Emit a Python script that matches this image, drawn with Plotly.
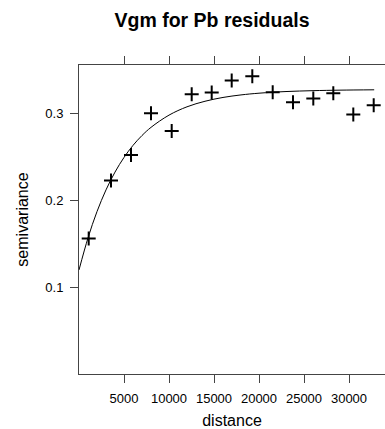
import plotly.graph_objects as go

# sample variogram
dist = [1078, 3556, 5778, 8000, 10300, 12522, 14744, 16967, 19256,
        21522, 23778, 26033, 28256, 30478, 32744]
gamma = [0.1563, 0.223, 0.2525, 0.3008, 0.2801, 0.3226, 0.3247, 0.3383,
         0.3433, 0.325, 0.3134, 0.3176, 0.3238, 0.2992, 0.310]

# fitted model curve
model_dist = [0, 1000, 2000, 3000, 4000, 5000, 6000, 7000, 8000, 10000,
              12000, 14000, 16000, 18000, 20000, 23000, 26000, 29000, 32800]
model_gamma = [0.120, 0.1569, 0.1873, 0.2123, 0.2328, 0.2497, 0.2636, 0.275,
               0.2844, 0.2985, 0.3081, 0.3145, 0.3189, 0.3218, 0.3238,
               0.3257, 0.3267, 0.3273, 0.3277]

x_ticks = [5000, 10000, 15000, 20000, 25000, 30000]
x_tick_labels = ["5000", "10000", "15000", "20000", "25000", "30000"]
y_ticks = [0.1, 0.2, 0.3]
y_tick_labels = ["0.1", "0.2", "0.3"]

FONT = "Liberation Sans, Arial, Helvetica, sans-serif"
AX = "#444444"

fig = go.Figure()
fig.add_trace(go.Scatter(x=model_dist, y=model_gamma, mode="lines",
                         line=dict(color="black", width=1, shape="spline"),
                         hoverinfo="skip", showlegend=False))
fig.add_trace(go.Scatter(x=dist, y=gamma, mode="markers",
                         marker=dict(symbol="cross-thin", size=10,
                                     line=dict(color="black", width=2)),
                         cliponaxis=False, showlegend=False))
# dummy trace to enable top axis
fig.add_trace(go.Scatter(x=[None], y=[None], xaxis="x2", yaxis="y",
                         showlegend=False, hoverinfo="skip"))

xr = [0, 34000]
fig.update_layout(
    width=385, height=429,
    margin=dict(l=79, r=0, t=65, b=55, autoexpand=False),
    paper_bgcolor="white", plot_bgcolor="white",
    font=dict(family=FONT, color="black"),
    title=dict(text="<b>Vgm for Pb residuals</b>", x=212/385, xanchor="center",
               y=1 - 20/429, yanchor="middle", font=dict(size=19.5, family=FONT)),
    xaxis=dict(range=xr, tickvals=x_ticks, ticktext=x_tick_labels,
               ticks="outside", ticklen=8, tickcolor=AX, tickwidth=1,
               showline=True, linecolor=AX, linewidth=1, showgrid=False,
               zeroline=False, tickfont=dict(size=13), automargin=False,
               ticklabelstandoff=4,
               title=dict(text="distance", font=dict(size=16), standoff=16)),
    xaxis2=dict(range=xr, overlaying="x", side="top", tickvals=x_ticks,
                showticklabels=False, ticks="outside", ticklen=8, tickcolor=AX,
                tickwidth=1, showline=True, linecolor=AX, linewidth=1,
                showgrid=False, zeroline=False, automargin=False),
    yaxis=dict(range=[0, 0.3563], tickvals=y_ticks, ticktext=y_tick_labels,
               ticks="outside", ticklen=8, tickcolor=AX, tickwidth=1,
               showline=True, linecolor=AX, linewidth=1, showgrid=False,
               zeroline=False, tickfont=dict(size=13), automargin=False,
               ticklabelstandoff=4,
               title=dict(text="semivariance", font=dict(size=16), standoff=12)),
)

fig.write_html("out.html",
               config={"displayModeBar": False},
               post_script="document.body.style.margin='0';"
                           "document.body.style.overflow='hidden';")
